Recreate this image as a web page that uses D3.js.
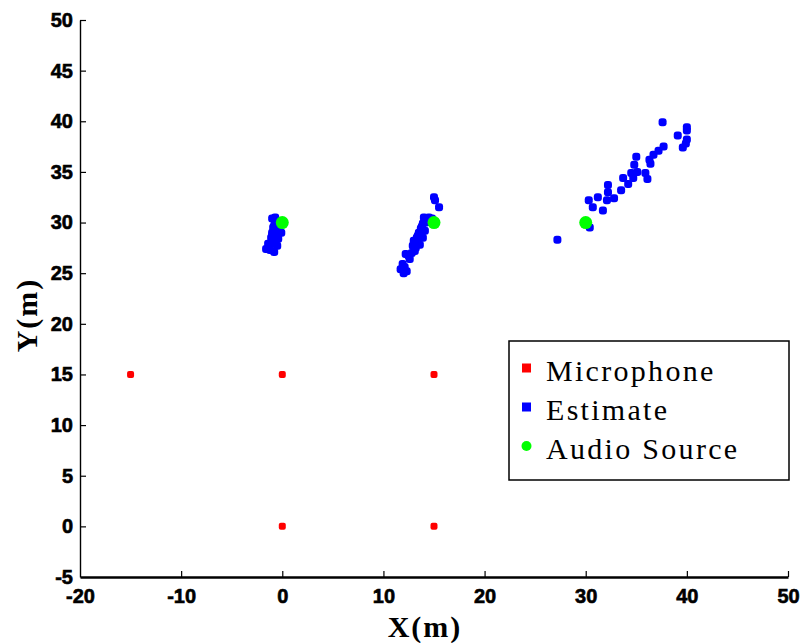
<!DOCTYPE html>
<html>
<head>
<meta charset="utf-8">
<script src="https://cdn.jsdelivr.net/npm/d3@7"></script>
<style>
  body { margin: 0; background: #fff; }
</style>
</head>
<body>
<div id="chart"></div>
<script>
// microphone positions
const micX = [-15, 0, 15, 0, 15]
const micY = [15, 15, 15, 0, 0]
// estimated source positions
const estX = [
  -1.0, -0.7, -0.8, -0.5, -1.0, -0.1, -1.1, -0.9, -1.4, -1.6, -1.2, -0.8, -0.5, -0.4, -0.6, -0.9,
  -0.7, -0.6, -1.0, -1.3, -0.3, -0.8,
  15.0, 15.1, 15.5, 14.0, 14.5, 13.9, 13.7, 13.5, 13.3, 13.0, 13.9, 12.9, 13.3, 12.2, 12.5, 11.9, 11.7, 12.0, 12.3, 13.2, 13.6, 14.2, 14.8,
  13.8, 14.1, 13.4, 13.1, 12.8, 12.6, 14.4, 13.6, 12.1,
  27.2, 37.6, 40.0, 40.0, 39.1, 40.0, 39.9, 39.6, 37.7, 37.2, 36.7, 36.3, 36.4, 35.0, 34.8, 34.5, 35.1, 35.9, 36.1, 34.7, 33.7, 34.2,
  33.5, 32.2, 32.2, 31.2, 32.1, 32.8, 30.3, 30.7, 31.7, 30.4
]
const estY = [
  30.4, 30.5, 29.7, 29.2, 29.0, 29.0, 28.5, 28.2, 27.9, 27.4, 27.3, 27.1, 27.7, 28.4, 30.1, 29.5,
  29.9, 28.8, 28.8, 27.6, 29.4, 27.9,
  32.5, 32.2, 31.5, 30.5, 30.5, 29.9, 29.4, 29.0, 28.5, 28.2, 28.5, 27.7, 27.9, 26.9, 26.7, 25.9, 25.4, 25.0, 25.2, 27.5, 28.9, 30.0, 30.4,
  29.6, 29.2, 28.7, 27.2, 27.0, 26.4, 30.2, 27.8, 25.6,
  28.3, 39.9, 39.4, 39.1, 38.6, 38.2, 37.8, 37.4, 37.5, 37.1, 36.7, 36.2, 35.8, 36.5, 35.7, 34.9, 35.0, 34.9, 34.3, 34.4, 34.4, 33.8,
  33.2, 33.7, 33.0, 32.5, 32.2, 32.4, 32.2, 31.5, 31.2, 29.5
]
// true audio sources
const srcX = [0, 15, 30]
const srcY = [30, 30, 30]

const xTicks = [-20, -10, 0, 10, 20, 30, 40, 50]
const yTicks = [-5, 0, 5, 10, 15, 20, 25, 30, 35, 40, 45, 50]
const legendLabels = ["Microphone", "Estimate", "Audio Source"]

const width = 801
const height = 643

const svg = d3.select("#chart")
  .append("svg")
  .attr("width", width)
  .attr("height", height)
  .style("background", "#fff")

const x = d3.scaleLinear().domain([-20, 50]).range([80, 788])
const y = d3.scaleLinear().domain([-5, 50]).range([577, 20])

// axes: ticks point inward, like matlab
const xAxis = svg.append("g")
  .attr("transform", "translate(0," + y(-5) + ")")
  .call(d3.axisBottom(x).tickValues(xTicks).tickFormat(d => String(d))
    .tickSize(-6).tickPadding(14).tickSizeOuter(0))
xAxis.select(".domain").attr("stroke-width", 2.6)
xAxis.selectAll("line").attr("stroke-width", 1.2)
xAxis.selectAll("text")
  .style("font-family", "'Liberation Sans', Arial, sans-serif")
  .style("font-weight", "bold")
  .style("font-size", "20px")
  .attr("stroke", "#000")
  .attr("stroke-width", 0.6)
  .attr("dy", "0.6em")

const yAxis = svg.append("g")
  .attr("transform", "translate(" + x(-20) + ",0)")
  .call(d3.axisLeft(y).tickValues(yTicks).tickFormat(d => String(d))
    .tickSize(-6).tickPadding(7).tickSizeOuter(0))
yAxis.select(".domain").attr("stroke-width", 1.4)
yAxis.selectAll("line").attr("stroke-width", 1.2)
yAxis.selectAll("text")
  .style("font-family", "'Liberation Sans', Arial, sans-serif")
  .style("font-weight", "bold")
  .style("font-size", "20px")
  .attr("stroke", "#000")
  .attr("stroke-width", 0.6)
// no tick marks on the corner
yAxis.selectAll(".tick").filter(d => d === -5).select("line").remove()
xAxis.selectAll(".tick").filter(d => d === -20).select("line").remove()

// axis titles
svg.append("text")
  .attr("x", 425)
  .attr("y", 637)
  .attr("text-anchor", "middle")
  .style("font-family", "'Liberation Serif', 'Times New Roman', serif")
  .style("font-weight", "bold")
  .style("font-size", "30px")
  .style("letter-spacing", "2px")
  .text("X(m)")

svg.append("text")
  .attr("transform", "translate(37,315) rotate(-90)")
  .attr("text-anchor", "middle")
  .style("font-family", "'Liberation Serif', 'Times New Roman', serif")
  .style("font-weight", "bold")
  .style("font-size", "30px")
  .style("letter-spacing", "2px")
  .text("Y(m)")

// estimates
svg.append("g").selectAll("rect")
  .data(d3.range(estX.length))
  .enter()
  .append("rect")
    .attr("x", i => x(estX[i]) - 4)
    .attr("y", i => y(estY[i]) - 4)
    .attr("width", 8)
    .attr("height", 8)
    .attr("rx", 3)
    .attr("fill", "#0000ff")

// audio sources
svg.append("g").selectAll("circle")
  .data(d3.range(srcX.length))
  .enter()
  .append("circle")
    .attr("cx", i => x(srcX[i]))
    .attr("cy", i => y(srcY[i]))
    .attr("r", 6.5)
    .attr("fill", "#00ff00")

// microphones
svg.append("g").selectAll("rect")
  .data(d3.range(micX.length))
  .enter()
  .append("rect")
    .attr("x", i => x(micX[i]) - 3.5)
    .attr("y", i => y(micY[i]) - 3.5)
    .attr("width", 7)
    .attr("height", 7)
    .attr("rx", 2)
    .attr("fill", "#ff0000")

// legend
const legend = svg.append("g").attr("transform", "translate(509,341)")
legend.append("rect")
  .attr("width", 280)
  .attr("height", 139)
  .attr("fill", "#fff")
  .attr("stroke", "#000")
  .attr("stroke-width", 1.5)

const legendColors = ["#ff0000", "#0000ff", "#00ff00"]
legendLabels.forEach((label, i) => {
  const cy = 27 + i * 39
  if (i < 2) {
    legend.append("rect")
      .attr("x", 13).attr("y", cy - 4.5)
      .attr("width", 9).attr("height", 9)
      .attr("fill", legendColors[i])
  } else {
    legend.append("circle")
      .attr("cx", 17.5).attr("cy", cy)
      .attr("r", 5)
      .attr("fill", legendColors[i])
  }
  legend.append("text")
    .attr("x", 37)
    .attr("y", cy + 13)
    .style("font-family", "'Liberation Serif', 'Times New Roman', serif")
    .style("font-size", "30px")
    .style("letter-spacing", "2.3px")
    .text(label)
})
</script>
</body>
</html>
